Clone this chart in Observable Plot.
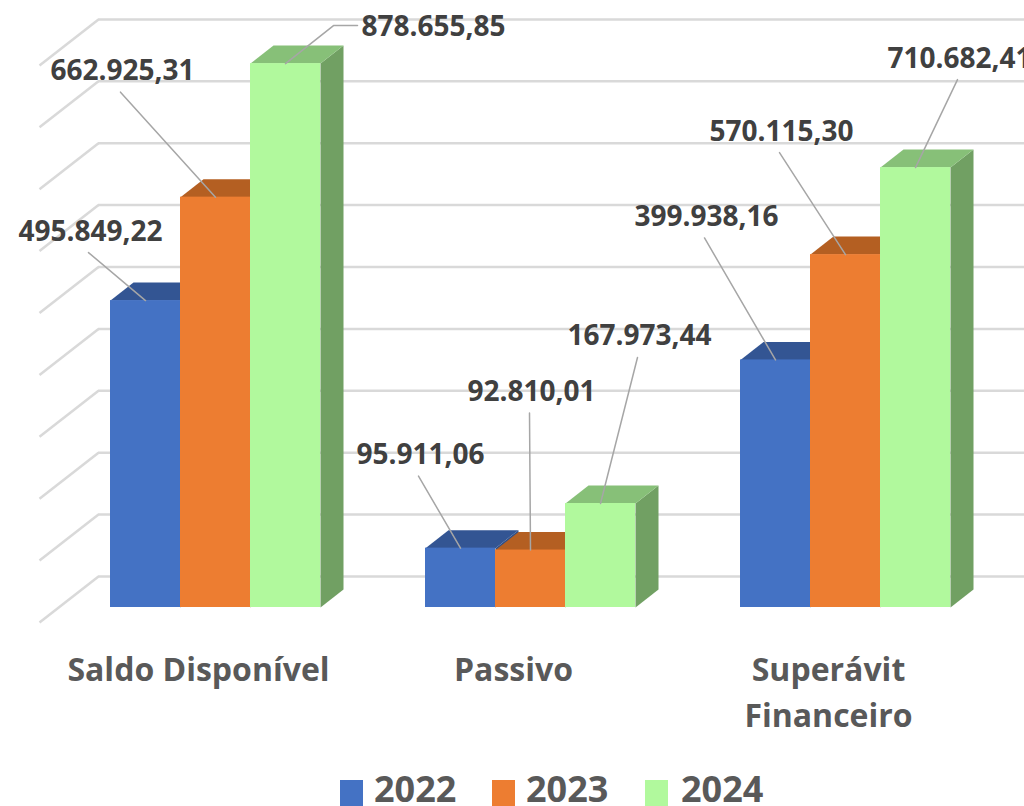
<!DOCTYPE html>
<html>
<head>
<meta charset="utf-8">
<script src="https://cdn.jsdelivr.net/npm/d3@7"></script>
<script src="https://cdn.jsdelivr.net/npm/@observablehq/plot@0.6"></script>
<style>
  html, body { margin: 0; padding: 0; background: #ffffff; }
  body { width: 1024px; height: 806px; overflow: hidden; font-family: "Open Sans", sans-serif; }
  #legend { position: relative; height: 61px; }
  #legend .sw { position: absolute; top: 35px; width: 23px; height: 30px; }
  #legend .lb { position: absolute; top: 26px; font-size: 36px; line-height: 36px; font-weight: 700; color: #595959; }
</style>
</head>
<body>
<div id="chart"></div>
<div id="legend"></div>
<script>
// ---------------- data ----------------
const categories = ["Saldo Disponível", "Passivo", "Superávit\nFinanceiro"];
const years = ["2022", "2023", "2024"];
const values2022 = [495849.22, 95911.06, 399938.16];
const values2023 = [662925.31, 92810.01, 570115.30];
const values2024 = [878655.85, 167973.44, 710682.41];
const gridTicks = [0, 100000, 200000, 300000, 400000, 500000, 600000, 700000, 800000, 900000];

// ---------------- styles ----------------
const frontColors = ["#4472C4", "#ED7D31", "#B1F99D"];
const topColors   = ["#335593", "#B45F22", "#87C078"];
const sideColors  = ["#2F4F88", "#A8561F", "#71A063"];

// ---------------- layout (pixels) ----------------
const W = 1024, H = 745;
const PX_PER_UNIT = 70;          // one bar width
const X0_PX = 110;               // left edge of first bar
const BASE_PX = 607;             // front baseline
const K = 0.000619;              // px per value unit
const GROUP_STEP = 4.5;          // group period (in bar widths)
const ux = px => px / PX_PER_UNIT;     // pixel width -> x units
const uy = px => px / K;               // pixel height -> value units (upward positive)
const pxToX = px => (px - X0_PX) / PX_PER_UNIT;

const DEPTH_X = ux(23), DEPTH_Y = uy(18);
const WALL_BACK_Y = uy(31), WALL_FRONT_Y = uy(15);

// label offsets (pixels from bar-top anchor), [category][year]
const labelOffsets = [
  [[-55, -69], [-93, -126], [148, -37]],
  [[-40, -93], [1, -158], [39, -167]],
  [[-69, -143], [-64, -123], [44, -109]]
];
const leaderLeft = [[false, false, true], [false, false, false], [false, false, false]];

// ---------------- build ----------------
const fmt = d3.formatLocale({decimal: ",", thousands: ".", grouping: [3], currency: ["R$", ""]}).format(",.2f");
const series = [values2022, values2023, values2024];

const bars = [];
categories.forEach((c, i) => {
  series.forEach((vals, j) => {
    const x1 = i * GROUP_STEP + j;
    bars.push({cat: i, year: j, x1, x2: x1 + 1, v: vals[i]});
  });
});

function poly(list, kind) {
  const pts = [];
  list.forEach((b, n) => {
    const id = kind + n;
    if (kind === "side") {
      pts.push({id, x: b.x2, y: 0}, {id, x: b.x2, y: b.v},
               {id, x: b.x2 + DEPTH_X, y: b.v + DEPTH_Y}, {id, x: b.x2 + DEPTH_X, y: DEPTH_Y});
    } else {
      pts.push({id, x: b.x1, y: b.v}, {id, x: b.x2, y: b.v},
               {id, x: b.x2 + DEPTH_X, y: b.v + DEPTH_Y}, {id, x: b.x1 + DEPTH_X, y: b.v + DEPTH_Y});
    }
  });
  return pts;
}

const barMarks = [];
years.forEach((y, j) => {
  const list = bars.filter(b => b.year === j);
  barMarks.push(Plot.line(poly(list, "side"), {x: "x", y: "y", z: "id", curve: "linear-closed", fill: sideColors[j], stroke: "none"}));
  barMarks.push(Plot.line(poly(list, "top"), {x: "x", y: "y", z: "id", curve: "linear-closed", fill: topColors[j], stroke: "none"}));
  barMarks.push(Plot.rectY(list, {x1: "x1", x2: "x2", y1: 0, y2: "v", fill: frontColors[j], inset: 0}));
});

const labels = bars.map(b => {
  const [ox, oy] = labelOffsets[b.cat][b.year];
  const ax = (b.x1 + b.x2) / 2, ay = b.v;
  return {text: fmt(b.v), ax, ay, x: ax + ux(ox), y: ay - uy(oy), ox, oy, left: leaderLeft[b.cat][b.year]};
});

const leaders = [];
labels.forEach((l, n) => {
  leaders.push({id: n, x: l.ax, y: l.ay});
  if (l.left) {
    leaders.push({id: n, x: l.ax + ux(l.ox - 100), y: l.ay - uy(l.oy - 1)});
    leaders.push({id: n, x: l.ax + ux(l.ox - 76), y: l.ay - uy(l.oy - 1)});
  } else {
    leaders.push({id: n, x: l.ax + ux(l.ox - 2), y: l.ay - uy(l.oy + 21)});
  }
});

const tickPos = categories.map((c, i) => i * GROUP_STEP + 1.5);

const chart = Plot.plot({
  width: W,
  height: H,
  marginTop: 0,
  marginLeft: 0,
  marginRight: 0,
  marginBottom: H - BASE_PX,
  style: {fontFamily: "Open Sans", color: "#595959", background: "#ffffff", overflow: "hidden"},
  x: {type: "linear", domain: [pxToX(0), pxToX(W)], range: [0, W]},
  y: {domain: [0, BASE_PX / K], range: [BASE_PX, 0], axis: null},
  marks: [
    // back wall gridlines
    Plot.ruleY(gridTicks, {y: d => d + WALL_BACK_Y, x1: pxToX(98), x2: pxToX(W), stroke: "#d9d9d9", strokeWidth: 2.5}),
    // left wall gridlines
    Plot.link(gridTicks, {x1: pxToX(39), y1: d => d - WALL_FRONT_Y, x2: pxToX(98), y2: d => d + WALL_BACK_Y, stroke: "#d9d9d9", strokeWidth: 2.5}),
    ...barMarks,
    Plot.line(leaders, {x: "x", y: "y", z: "id", stroke: "#a6a6a6", strokeWidth: 1.5}),
    Plot.text(labels, {x: "x", y: "y", text: "text", fontSize: 28, fontWeight: 700, fill: "#404040",
                       textAnchor: "middle", lineAnchor: "middle", fontFamily: "Open Sans"}),
    Plot.axisX({ticks: tickPos, tickFormat: d => categories[tickPos.indexOf(d)], tickSize: 0, tickPadding: 41,
                fontSize: 32, fontWeight: 700, lineHeight: 1.44, lineAnchor: "top", dx: -17, label: null, fill: "#595959"})
  ]
});
document.getElementById("chart").appendChild(chart);

// legend
const legend = document.getElementById("legend");
const swX = [340, 492, 645], lbX = [374, 526, 681];
years.forEach((y, j) => {
  const sw = document.createElement("div");
  sw.className = "sw"; sw.style.left = swX[j] + "px"; sw.style.background = frontColors[j];
  const lb = document.createElement("div");
  lb.className = "lb"; lb.style.left = lbX[j] + "px"; lb.textContent = y;
  legend.appendChild(sw); legend.appendChild(lb);
});
</script>
</body>
</html>
